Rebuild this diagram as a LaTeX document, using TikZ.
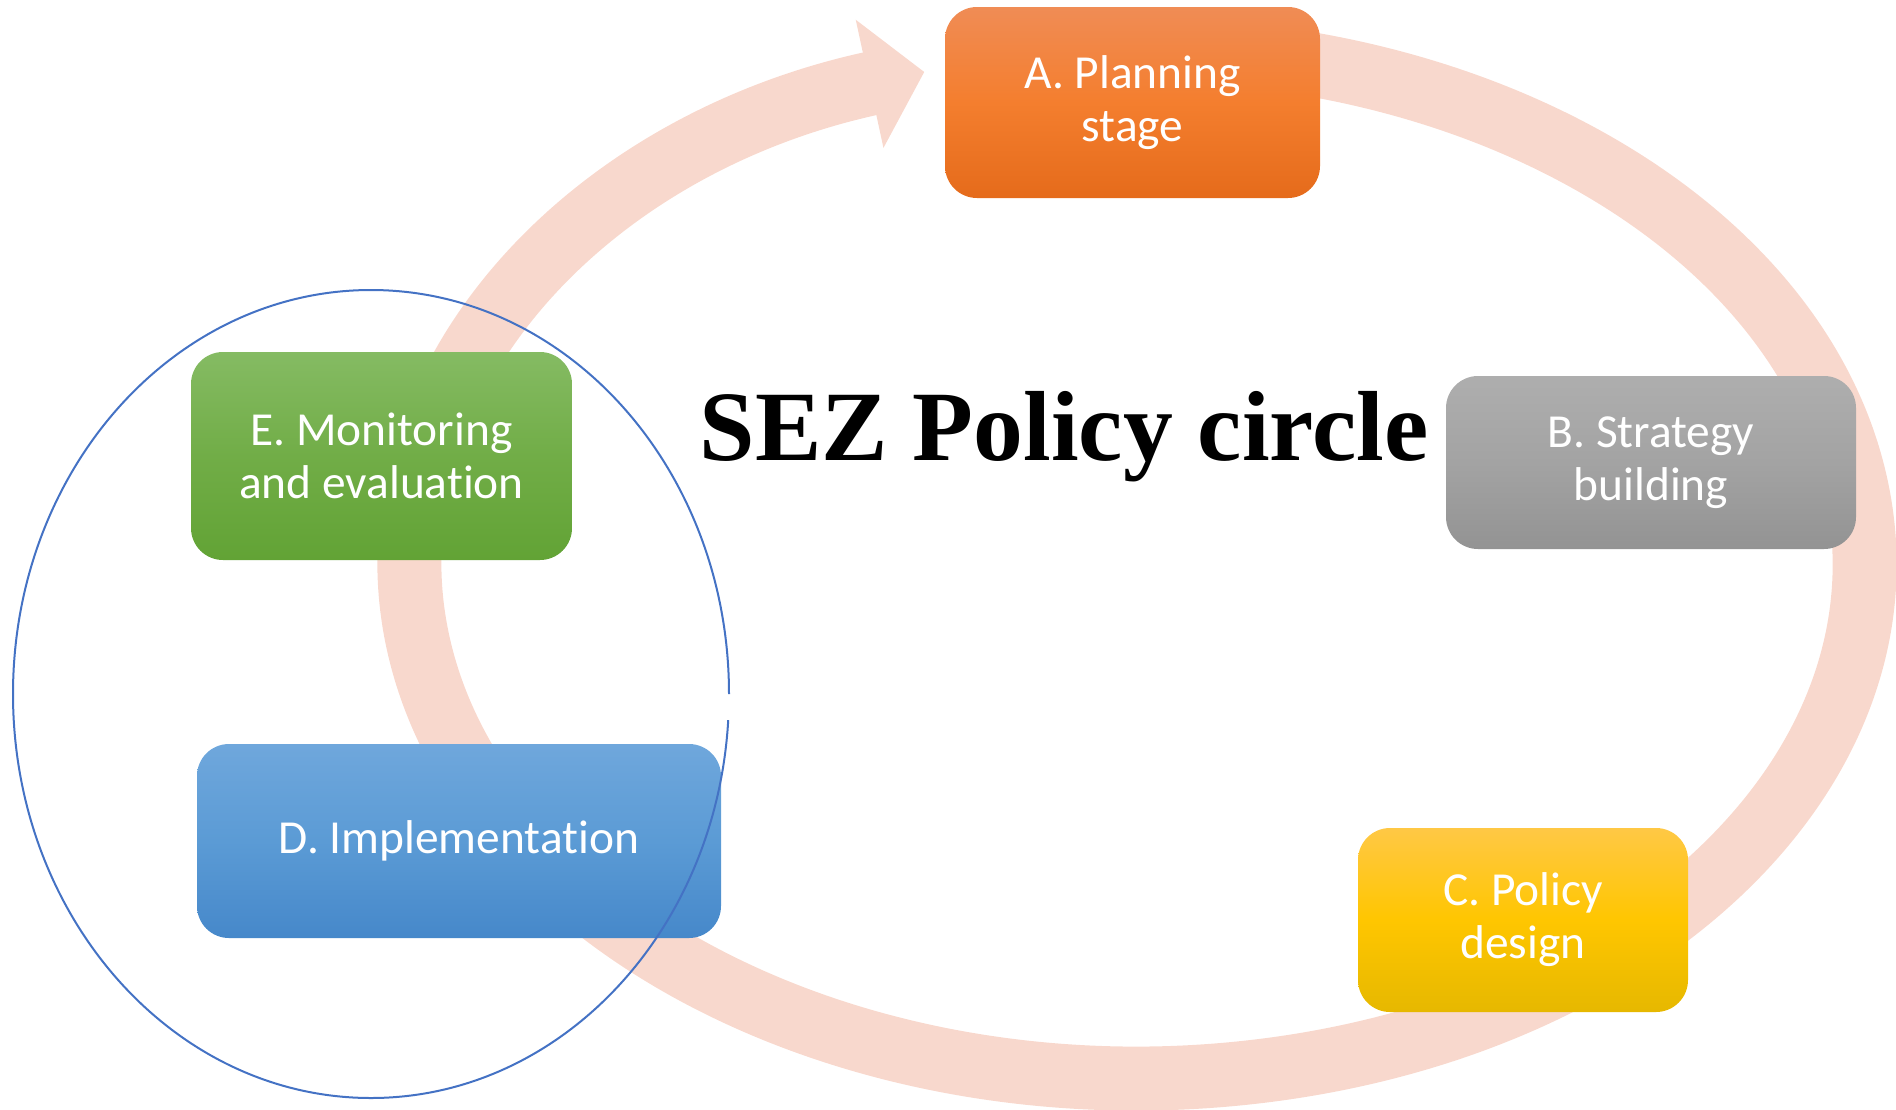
\documentclass[tikz,border=0pt]{standalone}
\usepackage{fontspec}
\setmainfont{Carlito}[Ligatures=NoCommon]
\newfontfamily\titlefont{Liberation Serif}
\usetikzlibrary{arrows.meta}
\definecolor{band}{HTML}{F8D8CD}
\definecolor{ringblue}{HTML}{4472C4}
\definecolor{aTop}{HTML}{F08C55}
\definecolor{aMid}{HTML}{F47E2E}
\definecolor{aBot}{HTML}{E56B1B}
\definecolor{bTop}{HTML}{AEAEAE}
\definecolor{bMid}{HTML}{A3A3A3}
\definecolor{bBot}{HTML}{939393}
\definecolor{cTop}{HTML}{FFC845}
\definecolor{cMid}{HTML}{FFC600}
\definecolor{cBot}{HTML}{E6B800}
\definecolor{dTop}{HTML}{6FA7DC}
\definecolor{dMid}{HTML}{5B9BD5}
\definecolor{dBot}{HTML}{4688CA}
\definecolor{eTop}{HTML}{85BB63}
\definecolor{eMid}{HTML}{71AD47}
\definecolor{eBot}{HTML}{62A335}
\begin{document}
\begin{tikzpicture}[x=0.5pt, y=0.5pt,
    stage/.style = {rounded corners=16pt, text=white, align=center, inner sep=0pt,
        font=\fontsize{23.7}{26.5}\selectfont}]
    \useasboundingbox (0,0) rectangle (1896,-1109);

    % cycle arrow
    \draw[band, line width=32pt, -{Triangle[length=28pt,width=64pt]}]
        (1010.7,-57.3) arc[start angle=100, end angle=-253, x radius=727.5, y radius=514.5];

    % stages
    \node[stage, minimum width=187.5pt, minimum height=95.5pt,
        top color=aTop, bottom color=aBot, middle color=aMid] (plan) at (1132.5,-102.5) {A. Planning\\stage};
    \node[stage, minimum width=205pt, minimum height=86.5pt,
        top color=bTop, bottom color=bBot, middle color=bMid] (strategy) at (1651,-462.5) {B. Strategy\\building};
    \node[stage, minimum width=165pt, minimum height=92pt,
        top color=cTop, bottom color=cBot, middle color=cMid] (design) at (1523,-920) {C. Policy\\design};
    \node[stage, minimum width=262pt, minimum height=97pt,
        top color=dTop, bottom color=dBot, middle color=dMid] (implement) at (459,-841) {D. Implementation};
    \node[stage, minimum width=190.5pt, minimum height=104pt,
        top color=eTop, bottom color=eBot, middle color=eMid] (monitor) at (381.5,-456) {E. Monitoring\\and evaluation};

    % title
    \node[font=\titlefont\bfseries\fontsize{49.8}{55}\selectfont, anchor=base] (title) at (1064,-460) {SEZ Policy circle};

    % ring
    \draw[ringblue, line width=1pt] (729,-694) arc[start angle=0, end angle=356.3, x radius=358, y radius=404];
\end{tikzpicture}
\end{document}
